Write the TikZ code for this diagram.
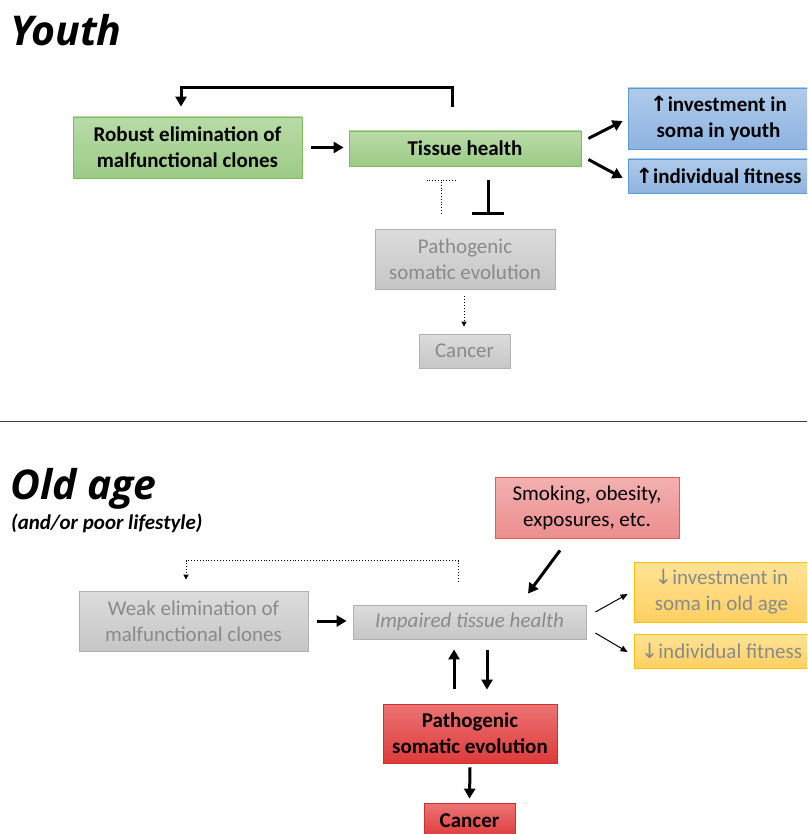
\documentclass[tikz,border=0pt]{standalone}
\usepackage{fontspec}
\setmainfont{Carlito}
\newfontfamily\titlefont{Open Sans}
\newfontfamily\symfont{DejaVu Sans}
\usetikzlibrary{arrows.meta,calc}
\definecolor{greenfillA}{HTML}{B9DBA8}
\definecolor{greenfillB}{HTML}{9CCB86}
\definecolor{greenline}{HTML}{7DBB5E}
\definecolor{bluefillA}{HTML}{AFCBEB}
\definecolor{bluefillB}{HTML}{8DB3E0}
\definecolor{blueline}{HTML}{5B9BD5}
\definecolor{grayfillA}{HTML}{DCDCDC}
\definecolor{grayfillB}{HTML}{C6C6C6}
\definecolor{grayline}{HTML}{B0B0B0}
\definecolor{graytext}{HTML}{8A8A8A}
\definecolor{pinkfillA}{HTML}{F3B0B0}
\definecolor{pinkfillB}{HTML}{EC8E8E}
\definecolor{pinkline}{HTML}{E05A5A}
\definecolor{yelfillA}{HTML}{FFE396}
\definecolor{yelfillB}{HTML}{FFD062}
\definecolor{yelline}{HTML}{FFC000}
\definecolor{redfillA}{HTML}{EC7474}
\definecolor{redfillB}{HTML}{DE3A3A}
\definecolor{redline}{HTML}{D03030}
\tikzset{
  box/.style={rectangle, inner sep=2pt, align=center, font=\fontsize{21}{26}\selectfont, line width=0.8pt},
  greenbox/.style={box, draw=greenline, top color=greenfillA, bottom color=greenfillB, font=\fontsize{21}{26}\selectfont\bfseries},
  bluebox/.style={box, draw=blueline, top color=bluefillA, bottom color=bluefillB, font=\fontsize{21}{26}\selectfont\bfseries},
  graybox/.style={box, draw=grayline, top color=grayfillA, bottom color=grayfillB, text=graytext},
  pinkbox/.style={box, draw=pinkline, top color=pinkfillA, bottom color=pinkfillB},
  yelbox/.style={box, draw=yelline, top color=yelfillA, bottom color=yelfillB, text=graytext},
  redbox/.style={box, draw=redline, top color=redfillA, bottom color=redfillB, font=\fontsize{21}{26}\selectfont\bfseries},
  thickarr/.style={line width=3pt, -{Triangle[length=10pt,width=11pt]}},
  thinarr/.style={line width=1pt, -{Triangle[length=7pt,width=6pt]}},
  dotarr/.style={line width=0.9pt, dotted, -{Triangle[length=5pt,width=5pt]}},
  titletext/.style={anchor=base west, inner sep=0pt, font=\titlefont\fontsize{41}{45}\selectfont\bfseries\itshape},
}
\begin{document}
\begin{tikzpicture}[x=1pt,y=-1pt]
\useasboundingbox (0,0) rectangle (807,834);
\begin{scope}
\clip (0,0) rectangle (807,834);
% ---------- Youth ----------
\node[titletext] (youth) at (10,46) {Youth};
\node[greenbox, minimum width=229pt, minimum height=61pt] (b1) at (187.5,147.5) {Robust elimination of\\malfunctional clones};
\node[greenbox, minimum width=232pt, minimum height=35pt] (th) at (465,148.5) {Tissue health};
\node[bluebox, minimum width=181pt, minimum height=61pt] (bl1) at (718.5,118.5) {{\symfont\bfseries ↑}investment in\\soma in youth};
\node[bluebox, minimum width=181pt, minimum height=34pt] (bl2) at (718.5,176) {{\symfont\bfseries ↑}individual fitness};
\node[graybox, minimum width=180pt, minimum height=60pt] (pg) at (465,259) {Pathogenic\\somatic evolution};
\node[graybox, minimum width=91pt, minimum height=34pt] (c1) at (464.5,351) {Cancer};

\draw[thickarr] ($(b1.east)+(9,0)$) -- ($(th.west)+(-5,-1)$);
\draw[thickarr] ($(th.north)+(-13,-24)$) -- ++(0,-19) -| ($(b1.north)+(-6.5,-10)$);
\draw[thickarr] ($(th.east)+(7,-10)$) -- ($(bl1.west)+(-5,2.5)$);
\draw[thickarr] ($(th.east)+(7,11)$) -- ($(bl2.west)+(-5,2)$);
\draw[line width=0.8pt, dotted] ($(pg.north)+(-24,-15)$) -- ($(th.south)+(-24,14)$) ++(-14.5,0) -- ++(29,0);
\draw[line width=3pt, -{Bar[width=32pt,line width=3pt]}] ($(th.south)+(23,14)$) -- ($(pg.north)+(23,-14)$);
\draw[dotarr] ($(pg.south)+(-1,7)$) -- ($(c1.north)+(-0.5,-7)$);

\draw[line width=0.8pt, black!75] (0,421) coordinate (sepL) -- (807,421) coordinate (sepR);

% ---------- Old age ----------
\node[titletext] (old) at (10,499) {Old age};
\node[anchor=base west, inner sep=0pt, font=\fontsize{21}{24}\selectfont\bfseries\itshape] (sub) at (11,529) {(and/or poor lifestyle)};
\node[pinkbox, minimum width=184pt, minimum height=61pt] (sm) at (587,507.5) {Smoking, obesity,\\exposures, etc.};
\node[graybox, minimum width=229pt, minimum height=60pt] (wk) at (193.5,621) {Weak elimination of\\malfunctional clones};
\node[graybox, minimum width=233pt, minimum height=34pt, font=\fontsize{21}{26}\selectfont\itshape] (im) at (469.5,622) {Impaired tissue health};
\node[yelbox, minimum width=175pt, minimum height=60pt] (y1) at (721.5,592) {{\symfont ↓}investment in\\soma in old age};
\node[yelbox, minimum width=175pt, minimum height=34pt] (y2) at (721.5,651) {{\symfont ↓}individual fitness};
\node[redbox, minimum width=174pt, minimum height=59pt] (rp) at (470,733.5) {Pathogenic\\somatic evolution};
\node[redbox, minimum width=91pt, minimum height=35pt] (c2) at (469.5,820.5) {Cancer};

\draw[thickarr] ($(sm.south)+(-27,12)$) -- ($(im.north)+(58.5,-11)$);
\draw[dotarr] ($(im.north)+(-11.5,-23)$) -- ++(0,-21) -| ($(wk.north)+(-7.5,-11)$);
\draw[thickarr] ($(wk.east)+(9,0)$) -- ($(im.west)+(-6,-1)$);
\draw[thinarr] ($(im.east)+(9,-10)$) -- ($(y1.west)+(-6,2)$);
\draw[thinarr] ($(im.east)+(9,11)$) -- ($(y2.west)+(-6,1)$);
\draw[thickarr] ($(rp.north)+(-16,-15)$) -- ($(im.south)+(-15.5,10)$);
\draw[thickarr] ($(im.south)+(17.5,11)$) -- ($(rp.north)+(17,-14)$);
\draw[thickarr] ($(rp.south)+(0,4)$) -- ($(c2.north)+(0,-4)$);
\end{scope}
\end{tikzpicture}
\end{document}
